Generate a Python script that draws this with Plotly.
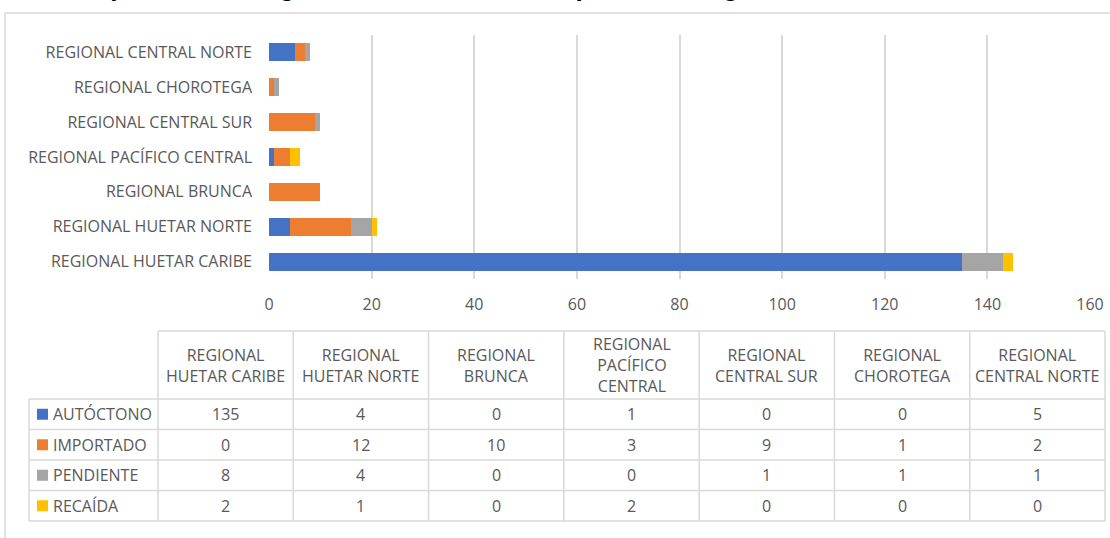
import plotly.graph_objects as go

# ---------------- data ----------------
regions = ["REGIONAL HUETAR CARIBE", "REGIONAL HUETAR NORTE", "REGIONAL BRUNCA",
           "REGIONAL PACÍFICO CENTRAL", "REGIONAL CENTRAL SUR", "REGIONAL CHOROTEGA",
           "REGIONAL CENTRAL NORTE"]
header_labels = ["REGIONAL<br>HUETAR CARIBE", "REGIONAL<br>HUETAR NORTE", "REGIONAL<br>BRUNCA",
                 "REGIONAL<br>PACÍFICO<br>CENTRAL", "REGIONAL<br>CENTRAL SUR", "REGIONAL<br>CHOROTEGA",
                 "REGIONAL<br>CENTRAL NORTE"]
series_names = ["AUTÓCTONO", "IMPORTADO", "PENDIENTE", "RECAÍDA"]
autoctono = [135, 4, 0, 1, 0, 0, 5]
importado = [0, 12, 10, 3, 9, 1, 2]
pendiente = [8, 4, 0, 0, 1, 1, 1]
recaida = [2, 1, 0, 2, 0, 0, 0]
series_values = [autoctono, importado, pendiente, recaida]
x_ticks = [0, 20, 40, 60, 80, 100, 120, 140, 160]
title_text = "Casos por estado según Dirección de Salud por Área Regional de la Salud, Costa Rica 2023"

# ---------------- style ----------------
W, H = 1110, 538
colors = ["#4472C4", "#ED7D31", "#A5A5A5", "#FFC000"]
TXT = "#595959"
LINE = "#D9D9D9"
FONT = "Open Sans"
FS = 16


def px(x):
    return x / W


def py(y):
    return 1 - y / H


fig = go.Figure()
for name, vals, col in zip(series_names, series_values, colors):
    fig.add_trace(go.Bar(y=regions, x=vals, name=name, orientation="h",
                         marker=dict(color=col, line=dict(width=0)), showlegend=False))

shapes = []
annotations = []

# chart area border
shapes.append(dict(type="rect", xref="paper", yref="paper", x0=px(5), y0=py(13), x1=px(W + 20), y1=py(H + 20),
                   line=dict(color=LINE, width=1.5), fillcolor="rgba(0,0,0,0)", layer="below"))

# title (mostly cut off at the top of the picture)
annotations.append(dict(text="<b>" + title_text + "</b>", xref="paper", yref="paper", x=px(24), y=py(3),
                        xanchor="left", yanchor="bottom", showarrow=False, borderpad=0,
                        font=dict(family="Liberation Sans", size=26, color="#000000")))

# ---------------- data table ----------------
left_x = 29
col_x0 = 158
col_x1 = 1105
ncol = len(regions)
cw = (col_x1 - col_x0) / ncol
head_top, head_bot = 331, 399
row_h = (521 - head_bot) / len(series_names)
row_edges = [head_bot + i * row_h for i in range(len(series_names) + 1)]

lw = 1.5
shapes.append(dict(type="line", xref="paper", yref="paper", x0=px(col_x0), x1=px(col_x1), y0=py(head_top), y1=py(head_top),
                   line=dict(color=LINE, width=lw)))
for ye in row_edges:
    shapes.append(dict(type="line", xref="paper", yref="paper", x0=px(left_x), x1=px(col_x1), y0=py(ye), y1=py(ye),
                       line=dict(color=LINE, width=lw)))
shapes.append(dict(type="line", xref="paper", yref="paper", x0=px(left_x), x1=px(left_x), y0=py(head_bot), y1=py(row_edges[-1]),
                   line=dict(color=LINE, width=lw)))
for i in range(ncol + 1):
    xe = col_x0 + i * cw
    shapes.append(dict(type="line", xref="paper", yref="paper", x0=px(xe), x1=px(xe), y0=py(head_top), y1=py(row_edges[-1]),
                       line=dict(color=LINE, width=lw)))

for i, lab in enumerate(header_labels):
    annotations.append(dict(text=lab, xref="paper", yref="paper", x=px(col_x0 + (i + 0.5) * cw),
                            y=py((head_top + head_bot) / 2), xanchor="center", yanchor="middle", showarrow=False,
                            font=dict(family=FONT, size=FS, color=TXT)))

for r, (name, vals, col) in enumerate(zip(series_names, series_values, colors)):
    yc = (row_edges[r] + row_edges[r + 1]) / 2
    shapes.append(dict(type="rect", xref="paper", yref="paper", x0=px(37), x1=px(48), y0=py(yc - 5.5), y1=py(yc + 5.5),
                       fillcolor=col, line=dict(width=0)))
    annotations.append(dict(text=name, xref="paper", yref="paper", x=px(51), y=py(yc), xanchor="left",
                            yanchor="middle", showarrow=False, font=dict(family=FONT, size=FS, color=TXT)))
    for i, v in enumerate(vals):
        annotations.append(dict(text=str(v), xref="paper", yref="paper", x=px(col_x0 + (i + 0.5) * cw), y=py(yc),
                                xanchor="center", yanchor="middle", showarrow=False,
                                font=dict(family=FONT, size=FS, color=TXT)))

fig.update_layout(
    width=W, height=H, autosize=False,
    margin=dict(l=0, r=0, t=0, b=0, pad=0),
    paper_bgcolor="white", plot_bgcolor="white",
    barmode="stack", bargap=0.484,
    font=dict(family=FONT, size=FS, color=TXT),
    xaxis=dict(domain=[px(269), px(1090)], range=[0, 160], tickvals=x_ticks, showgrid=True, automargin=False,
               gridcolor=LINE, gridwidth=1.5, zeroline=False, showline=False, ticks="",
               ticklabelstandoff=14, tickfont=dict(family=FONT, size=FS, color=TXT)),
    yaxis=dict(domain=[py(279), py(35)], showgrid=False, zeroline=False, showline=False, ticks="", automargin=False,
               ticklabelstandoff=16, tickfont=dict(family=FONT, size=FS, color=TXT)),
    shapes=shapes, annotations=annotations,
)

fig.write_html("out.html", config={"responsive": False, "displayModeBar": False},
               post_script="document.body.style.margin='0';document.body.style.overflow='hidden';")
